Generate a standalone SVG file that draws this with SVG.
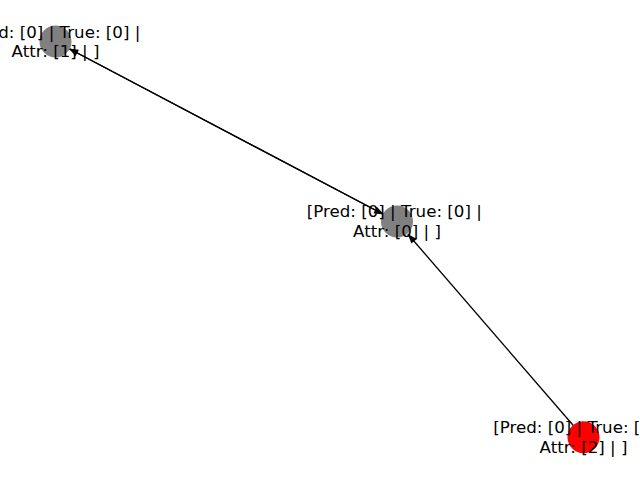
<svg xmlns="http://www.w3.org/2000/svg" width="640" height="480" viewBox="0 0 640 480">
<style>
.edge{stroke:#000;stroke-width:1.33;fill:none;marker-end:url(#ah)}
.lbl{font-family:"DejaVu Sans",sans-serif;font-size:16.67px;fill:#000;text-anchor:middle}
</style>
<defs>
<marker id="ah" markerUnits="userSpaceOnUse" markerWidth="12" markerHeight="12" viewBox="-9 -4 10 8" refX="0" refY="0" orient="auto">
<path d="M0,0 L-8,-3 L-8,3 Z" fill="#000"/>
</marker>
</defs>
<rect width="640" height="480" fill="#fff"/>
<g id="connectors">
<path class="edge" d="M397,221.5 L68.8,48.5"/>
<path class="edge" d="M55.5,41.5 L383.7,214.5"/>
<path class="edge" d="M583.5,437.3 L407.8,234"/>
</g>
<g id="node1">
<circle cx="55.5" cy="41.5" r="16" fill="#808080"/>
<text class="lbl" x="52.8" y="37.5">[Pred: [0] | True: [0] |</text>
<text class="lbl" x="55.5" y="57">Attr: [1] | ]</text>
</g>
<g id="node2">
<circle cx="397" cy="221.5" r="16" fill="#808080"/>
<text class="lbl" x="394.3" y="217">[Pred: [0] | True: [0] |</text>
<text class="lbl" x="397" y="237">Attr: [0] | ]</text>
</g>
<g id="node3">
<circle cx="583.5" cy="437.3" r="16" fill="#ff0000"/>
<text class="lbl" x="580.8" y="433">[Pred: [0] | True: [0] |</text>
<text class="lbl" x="583.5" y="453">Attr: [2] | ]</text>
</g>
</svg>
